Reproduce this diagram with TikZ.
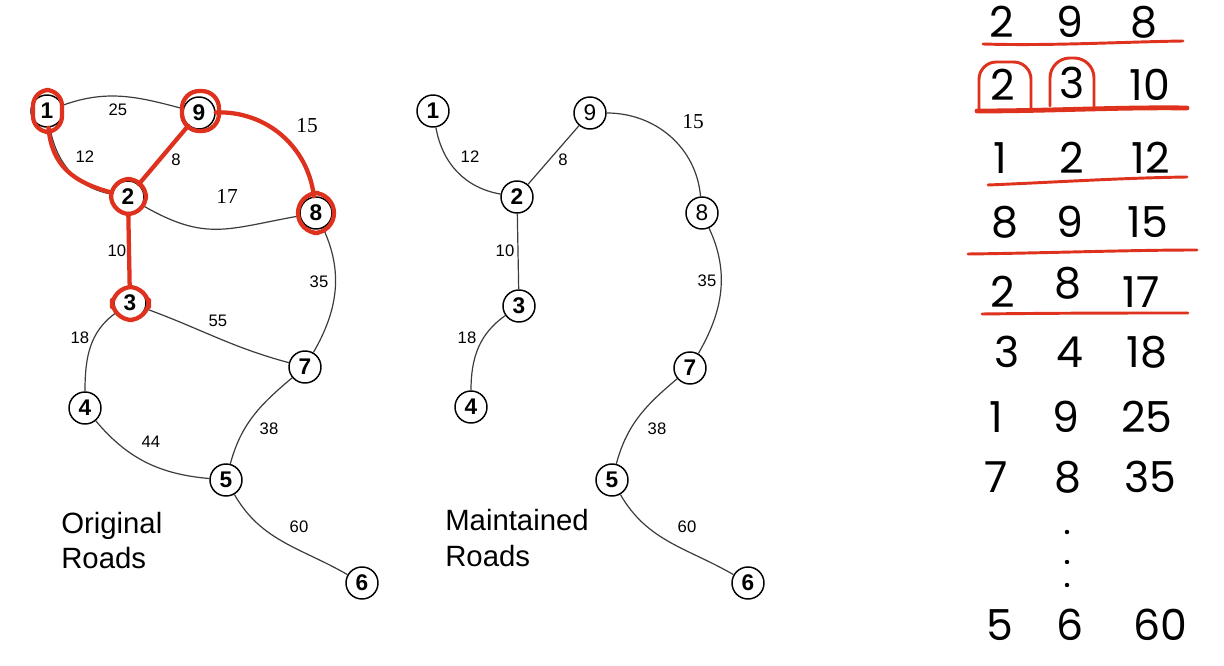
\documentclass[tikz,border=0pt]{standalone}
\usepackage{fontspec}
\setmainfont{Liberation Sans}
\newfontfamily\serifnum{Liberation Serif}
\newfontfamily\hand{Poppins}
\definecolor{pen}{RGB}{222,50,30}
\definecolor{roadc}{RGB}{60,60,60}
\begin{document}
\begin{tikzpicture}[x=0.75pt,y=0.75pt]
\tikzset{
 v/.style={circle,draw,line width=1.1pt,minimum size=24pt,inner sep=0pt,fill=white,
   font=\fontsize{17}{17}\selectfont\bfseries},
 vt/.style={v,font=\fontsize{17}{17}\selectfont},
 road/.style={line width=0.9pt,draw=roadc},
 wl/.style={font=\fontsize{12.5}{12.5}\selectfont,inner sep=0pt},
 wls/.style={font=\serifnum\fontsize{16}{16}\selectfont,inner sep=0pt},
 redmark/.style={draw=pen,line width=3.2pt,line cap=round,line join=round},
 redline/.style={draw=pen,line width=2.2pt,line cap=round},
 hw/.style={font=\hand\fontsize{32}{32}\selectfont,inner sep=0pt},
 captxt/.style={font=\fontsize{22}{22}\selectfont,inner sep=0pt,anchor=base west},
}
\fill[white] (0,0) rectangle (1224,-666);
\useasboundingbox (0,0) rectangle (1224,-666);

% ---------- Original roads ----------
\node[v] (a1) at (47,-111) {1};
\node[v] (a9) at (199,-113) {9};
\node[v] (a2) at (128,-197) {2};
\node[v] (a8) at (316,-213) {8};
\node[v] (a3) at (130,-303) {3};
\node[v] (a4) at (85,-408) {4};
\node[v] (a7) at (305,-367) {7};
\node[v] (a5) at (226,-480) {5};
\node[v] (a6) at (362,-583) {6};

\draw[road] (a1) to[out=20,in=165] (a9);
\draw[road] (a1) to[out=-80,in=170] (a2);
\draw[road] (a9) -- (a2);
\draw[road] (a9) to[out=0,in=95] (a8);
\draw[road] (a2) to[out=-30,in=190,looseness=1.2] (a8);
\draw[road] (a2) -- (a3);
\draw[road] (a8) to[out=-65,in=60] (a7);
\draw[road] (a3) to[out=-20,in=165] (a7);
\draw[road] (a3) to[out=215,in=90] (a4);
\draw[road] (a4) to[out=-50,in=175] (a5);
\draw[road] (a7) to[out=-140,in=75] (a5);
\draw[road] (a5) to[out=-60,in=150] (a6);

\node[wl] (la25) at (118,-110) {25};
\node[wl] (la12) at (85,-157) {12};
\node[wl] (la8) at (176,-160) {8};
\node[wls] (la15) at (307,-126) {15};
\node[wls] (la17) at (227,-196) {17};
\node[wl] (la10) at (117,-251) {10};
\node[wl] (la35) at (319,-282) {35};
\node[wl] (la55) at (218,-321) {55};
\node[wl] (la18) at (80,-338) {18};
\node[wl] (la44) at (151,-442) {44};
\node[wl] (la38) at (269,-429) {38};
\node[wl] (la60) at (299,-527) {60};

\node[captxt] (orig1) at (61,-533) {Original};
\node[captxt] (orig2) at (61,-568) {Roads};

% red annotations
\draw[redmark] (a1) to[out=-85,in=165,looseness=1.1] (a2);
\draw[redmark] (a9) -- (a2);
\draw[redmark] (a9) to[out=2,in=97] (a8);
\draw[redmark] (a2) -- (a3);
\draw[redmark,rounded corners=12,shift={(a1)}] (-14,-21) rectangle (15,21);
\draw[redmark,rounded corners=13,shift={(a9)}] (-17,-18) rectangle (20,22);
\draw[redmark,rounded corners=14,shift={(a2)}] (-17,-17) rectangle (18,18);
\draw[redmark,rounded corners=15,shift={(a8)}] (-18,-20) rectangle (18,20);
\draw[redmark,rounded corners=15,shift={(a3)}] (-18,-17) rectangle (19,16);

% ---------- Maintained roads ----------
\begin{scope}[xshift=386*0.75pt]
\node[v] (b1) at (47,-111) {1};
\node[vt] (b9) at (204,-113) {9};
\node[v] (b2) at (131,-197) {2};
\node[vt] (b8) at (316,-213) {8};
\node[v] (b3) at (133,-306) {3};
\node[v] (b4) at (85,-407) {4};
\node[v] (b7) at (304,-368) {7};
\node[v] (b5) at (226,-480) {5};
\node[v] (b6) at (362,-583) {6};

\draw[road] (b1) to[out=-80,in=170] (b2);
\draw[road] (b9) -- (b2);
\draw[road] (b9) to[out=0,in=95] (b8);
\draw[road] (b2) -- (b3);
\draw[road] (b8) to[out=-65,in=60] (b7);
\draw[road] (b3) to[out=215,in=90] (b4);
\draw[road] (b7) to[out=-140,in=75] (b5);
\draw[road] (b5) to[out=-60,in=150] (b6);

\node[wl] (lb12) at (84,-157) {12};
\node[wl] (lb8) at (177,-160) {8};
\node[wls] (lb15) at (307,-122) {15};
\node[wl] (lb10) at (119,-251) {10};
\node[wl] (lb35) at (321,-281) {35};
\node[wl] (lb18) at (81,-338) {18};
\node[wl] (lb38) at (271,-429) {38};
\node[wl] (lb60) at (301,-527) {60};

\node[captxt] (main1) at (59,-530) {Maintained};
\node[captxt] (main2) at (59,-566) {Roads};
\end{scope}

% ---------- sorted edge list ----------
\foreach \r/\y/\xa/\a/\xb/\yb/\b/\xc/\c in {
 1/22/1002/2/1070/22/9/1144/8,
 2/85/1003/2/1072/83/3/1150/10,
 3/158/1000/1/1072/158/2/1151/12,
 4/222/1005/8/1070/222/9/1148/15,
 5/292/1003/2/1068/283/8/1141/17,
 6/352/1007/3/1070/352/4/1147/18,
 7/417/996/1/1066/417/9/1147/25,
 8/477/996/7/1068/477/8/1150/35,
 9/625/1000/5/1070/625/6/1160/60}{
 \node[hw] (t\r a) at (\xa,-\y) {\a};
 \node[hw] (t\r b) at (\xb,-\yb) {\b};
 \node[hw] (t\r c) at (\xc,-\y) {\c};
}
\foreach \i/\y in {1/532,2/562,3/585}{
 \fill (1067,-\y) circle (2.2);
}

\draw[redline] (983,-44) .. controls (1050,-46) and (1120,-42) .. (1183,-41);
\draw[redline,line width=3.6pt] (977,-111) .. controls (1050,-111) and (1120,-107) .. (1187,-108);
\draw[redline] (988,-185) .. controls (1060,-182) and (1120,-178) .. (1187,-177);
\draw[redline] (968,-254) .. controls (1050,-253) and (1130,-250) .. (1197,-250);
\draw[redline] (982,-314) .. controls (1060,-313) and (1130,-313) .. (1188,-313);
\draw[redline,rounded corners=13] (979,-110) -- (979,-62) -- (1031,-62) -- (1031,-109);
\draw[redline,rounded corners=15] (1050,-106) -- (1050,-58) -- (1094,-58) -- (1094,-108);
\end{tikzpicture}
\end{document}
